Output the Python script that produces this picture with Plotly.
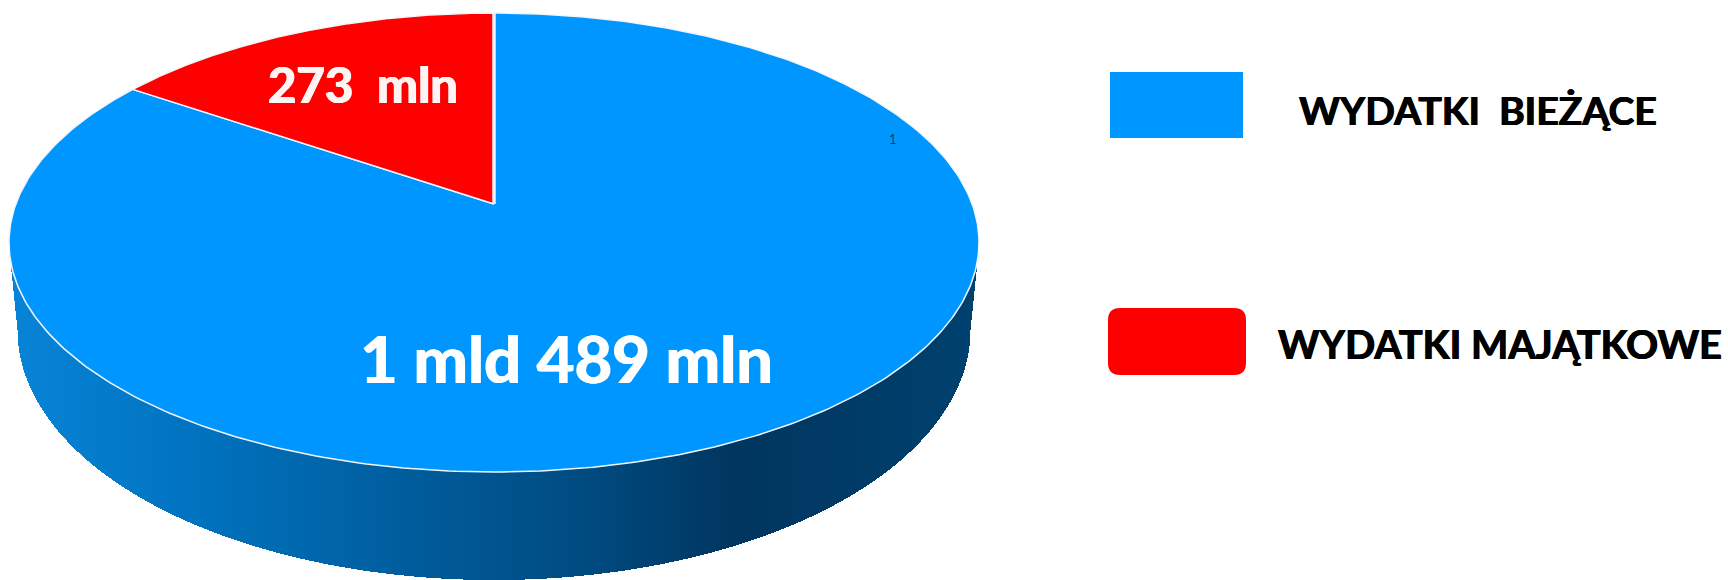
import numpy as np
import plotly.graph_objects as go

# ---- data ----
categories = ["WYDATKI  BIEŻĄCE", "WYDATKI MAJĄTKOWE"]
values_mln = [1489, 273]
value_labels = ["1 mld 489 mln", "273  mln"]
slice_colors = ["#0096FF", "#FF0000"]
wall_stop_x = [0.0, 0.2, 0.4, 0.6, 0.75, 1.0]
wall_stop_rgb = [(8, 132, 216), (0, 114, 190), (0, 94, 158), (0, 74, 128), (0, 54, 95), (0, 65, 111)]

# ---- geometry of the tilted disc (pixel-based axes) ----
W, H = 1728, 580
CX, CY, RX, RY = 494.0, 242.5, 485.0, 229.5
K = 0.168                      # perspective shift of the pie centre
C = np.sqrt(1 - K**2)
B_CY, B_RX, B_RY = 330.0, 476.0, 250.0   # lower rim of the wall


def project(u, v):
    d = 1 + K * v
    return CX + RX * C * u / d, CY - RY * (v + K) / d


def slice_outline(a0, a1):
    t = np.linspace(a0, a1, 400)
    x, y = project(np.sin(t), np.cos(t))
    ax, ay = project(0.0, 0.0)
    return [ax, *x, ax], [ay, *y, ay]


fig = go.Figure()

# side wall: one thin bar per pixel column
xs = np.arange(CX - RX, CX + RX + 1, 1.0)
dx = np.abs(xs - CX)
inner = np.clip(dx / B_RX, 0, 1)
bottom = B_CY + B_RY * np.sqrt(1 - inner**2)
edge = dx > B_RX
bottom[edge] = CY + (B_CY - CY) * (RX - dx[edge]) / (RX - B_RX)
f = (xs - xs[0]) / (xs[-1] - xs[0])
wall_rgb = np.array([np.interp(f, wall_stop_x, [c[i] for c in wall_stop_rgb]) for i in range(3)]).T
wall_colors = [f"rgb({r:.0f},{g:.0f},{b:.0f})" for r, g, b in wall_rgb]
fig.add_trace(go.Bar(x=xs, y=bottom - CY, base=CY, width=1.0,
                     marker=dict(color=wall_colors, line=dict(width=0)),
                     hoverinfo="skip", showlegend=False))

# top face
total = sum(values_mln)
start = 0.0
for name, val, col in zip(categories, values_mln, slice_colors):
    end = start + 2 * np.pi * val / total
    px, py = slice_outline(start, end)
    fig.add_trace(go.Scatter(x=px, y=py, mode="lines", fill="toself", fillcolor=col,
                             line=dict(color="#F2F6FA", width=1.5), name=name,
                             hoverinfo="name", showlegend=False))
    start = end

# wider seam at 12 o'clock
sx, sy = project(np.array([0.0, 0.0]), np.array([0.0, 1.0]))
fig.add_trace(go.Scatter(x=sx, y=sy, mode="lines", line=dict(color="#EEF2F8", width=3.5),
                         hoverinfo="skip", showlegend=False))

FONT = "Lato"
heavy_w = "0.8px 0 0 #FFFFFF,-0.8px 0 0 #FFFFFF"
heavy_k = "0.6px 0 0 #000000,-0.6px 0 0 #000000"
ann = [
    dict(x=566, y=358, text=f"<b>{value_labels[0]}</b>",
         font=dict(size=65, color="white", family=FONT, shadow=heavy_w)),
    dict(x=363, y=84, text=f"<b>{value_labels[1]}</b>",
         font=dict(size=49, color="#FFF4F4", family=FONT, shadow=heavy_w)),
    dict(x=1478, y=110, text=f"<b>{categories[0]}</b>",
         font=dict(size=39, color="black", family=FONT, shadow=heavy_k)),
    dict(x=1500, y=343, text=f"<b>{categories[1]}</b>",
         font=dict(size=39.5, color="black", family=FONT, shadow=heavy_k)),
    dict(x=893, y=139, text="1", font=dict(size=13, color="#123A78", family=FONT)),
]
for a in ann:
    a.update(xref="x", yref="y", showarrow=False, xanchor="center", yanchor="middle")

shapes = [
    dict(type="rect", xref="x", yref="y", x0=1110, x1=1243, y0=72, y1=138,
         fillcolor=slice_colors[0], line=dict(width=0)),
    dict(type="path", xref="x", yref="y", fillcolor=slice_colors[1], line=dict(width=0),
         path="M 1120 308 L 1234 308 Q 1246 308 1246 320 L 1246 363 Q 1246 375 1234 375 "
              "L 1120 375 Q 1108 375 1108 363 L 1108 320 Q 1108 308 1120 308 Z"),
]

fig.update_layout(
    width=W, height=H, margin=dict(l=0, r=0, t=0, b=0),
    paper_bgcolor="white", plot_bgcolor="white",
    xaxis=dict(range=[0, W], visible=False, fixedrange=True),
    yaxis=dict(range=[H, 0], visible=False, fixedrange=True),
    annotations=ann, shapes=shapes, bargap=0, showlegend=False,
)
fig.write_html("out.html", config={"displayModeBar": False},
               post_script="document.body.style.margin='0';document.body.style.overflow='hidden';")
